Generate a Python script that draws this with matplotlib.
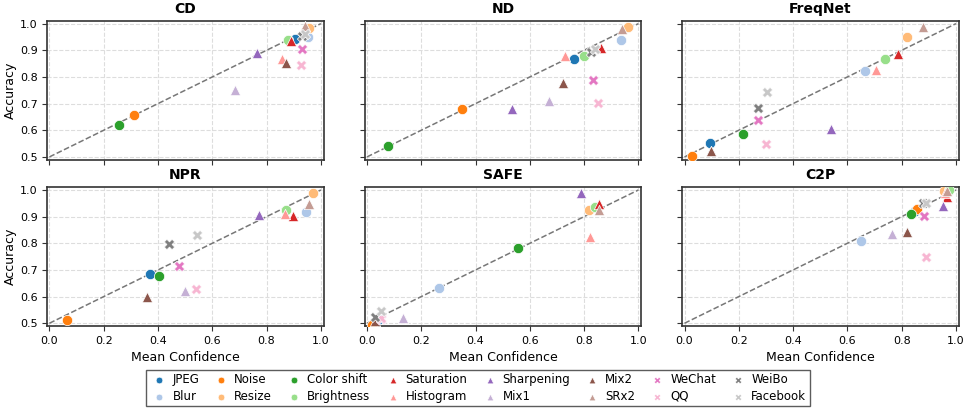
import matplotlib.pyplot as plt
import numpy as np

methods = ['JPEG', 'Blur', 'Noise', 'Resize', 'Color shift', 'Brightness',
           'Saturation', 'Histogram', 'Sharpening', 'Mix1', 'Mix2', 'SRx2',
           'WeChat', 'QQ', 'WeiBo', 'Facebook']
markers = ['o'] * 6 + ['^'] * 6 + ['X'] * 4
detectors = ['CD', 'ND', 'FreqNet', 'NPR', 'SAFE', 'C2P']

# mean confidence / accuracy per detector, same order as methods
cd_conf = [0.906, 0.952, 0.310, 0.956, 0.257, 0.880, 0.890, 0.855, 0.766, 0.685, 0.871, 0.940, 0.931, 0.927, 0.932, 0.940]
cd_acc = [0.941, 0.948, 0.656, 0.985, 0.621, 0.940, 0.934, 0.868, 0.891, 0.750, 0.854, 0.990, 0.903, 0.843, 0.953, 0.960]

nd_conf = [0.761, 0.935, 0.349, 0.963, 0.077, 0.798, 0.862, 0.728, 0.533, 0.672, 0.722, 0.938, 0.833, 0.850, 0.827, 0.840]
nd_acc = [0.869, 0.938, 0.680, 0.988, 0.540, 0.879, 0.909, 0.878, 0.679, 0.709, 0.778, 0.978, 0.788, 0.703, 0.894, 0.905]

freq_conf = [0.093, 0.665, 0.029, 0.820, 0.215, 0.740, 0.788, 0.705, 0.541, 0.099, 0.099, 0.878, 0.270, 0.300, 0.270, 0.305]
freq_acc = [0.551, 0.823, 0.504, 0.948, 0.585, 0.866, 0.886, 0.825, 0.604, 0.523, 0.523, 0.988, 0.639, 0.548, 0.683, 0.743]

npr_conf = [0.370, 0.946, 0.063, 0.970, 0.404, 0.872, 0.899, 0.868, 0.773, 0.500, 0.361, 0.958, 0.479, 0.540, 0.442, 0.543]
npr_acc = [0.684, 0.918, 0.511, 0.989, 0.676, 0.925, 0.902, 0.908, 0.906, 0.621, 0.599, 0.946, 0.715, 0.629, 0.798, 0.831]

safe_conf = [0.045, 0.265, 0.018, 0.817, 0.556, 0.840, 0.853, 0.823, 0.789, 0.134, 0.030, 0.854, 0.050, 0.053, 0.028, 0.053]
safe_acc = [0.515, 0.633, 0.4925, 0.926, 0.781, 0.935, 0.948, 0.825, 0.988, 0.520, 0.510, 0.924, 0.515, 0.520, 0.524, 0.545]

c2p_conf = [0.850, 0.650, 0.858, 0.957, 0.834, 0.975, 0.967, 0.960, 0.951, 0.765, 0.821, 0.967, 0.881, 0.890, 0.878, 0.890]
c2p_acc = [0.920, 0.810, 0.928, 0.998, 0.909, 1.000, 0.973, 0.990, 0.938, 0.835, 0.843, 0.998, 0.903, 0.749, 0.950, 0.950]

confs = [cd_conf, nd_conf, freq_conf, npr_conf, safe_conf, c2p_conf]
accs = [cd_acc, nd_acc, freq_acc, npr_acc, safe_acc, c2p_acc]

colors = plt.cm.tab20(np.arange(16))

fig, axes = plt.subplots(2, 3, figsize=(9.64, 4.11), dpi=100, sharex=True, sharey=True)
fig.subplots_adjust(left=0.049, right=0.9945, top=0.949, bottom=0.207, wspace=0.149, hspace=0.2)

for k, ax in enumerate(axes.flat):
    ax.plot([0, 1], [0.5, 1.0], '--', color='#777777', lw=1.1, zorder=1)
    for i in range(len(methods)):
        ax.scatter(confs[k][i], accs[k][i], color=colors[i], marker=markers[i],
                   s=55, edgecolors='white', linewidths=0.5, label=methods[i], zorder=3)
    ax.set_title(detectors[k], fontsize=10, fontweight='bold')
    ax.grid(True, ls='--', color='#dddddd', lw=0.8)
    ax.set_axisbelow(True)
    for sp in ax.spines.values():
        sp.set_color('#333333')
        sp.set_linewidth(1.2)
    ax.tick_params(labelsize=8, color='#333333')

ax = axes[0, 0]
ax.set_xlim(-0.008, 1.01)
ax.set_ylim(0.49, 1.01)
ax.set_xticks([0.0, 0.2, 0.4, 0.6, 0.8, 1.0])
ax.set_yticks([0.5, 0.6, 0.7, 0.8, 0.9, 1.0])

for ax in axes[1, :]:
    ax.set_xlabel('Mean Confidence', fontsize=9)
for ax in axes[:, 0]:
    ax.set_ylabel('Accuracy', fontsize=9, labelpad=2)

handles, labels = axes[0, 0].get_legend_handles_labels()
fig.legend(handles, labels, loc='lower center', bbox_to_anchor=(0.496, -0.003), ncol=8,
           fontsize=8.5, markerscale=0.65, frameon=True, edgecolor='#333333',
           fancybox=False, handletextpad=0.3, columnspacing=1.07, labelspacing=0.3,
           borderpad=0.3, handlelength=1.6)

fig.savefig('out.png', dpi=100)
